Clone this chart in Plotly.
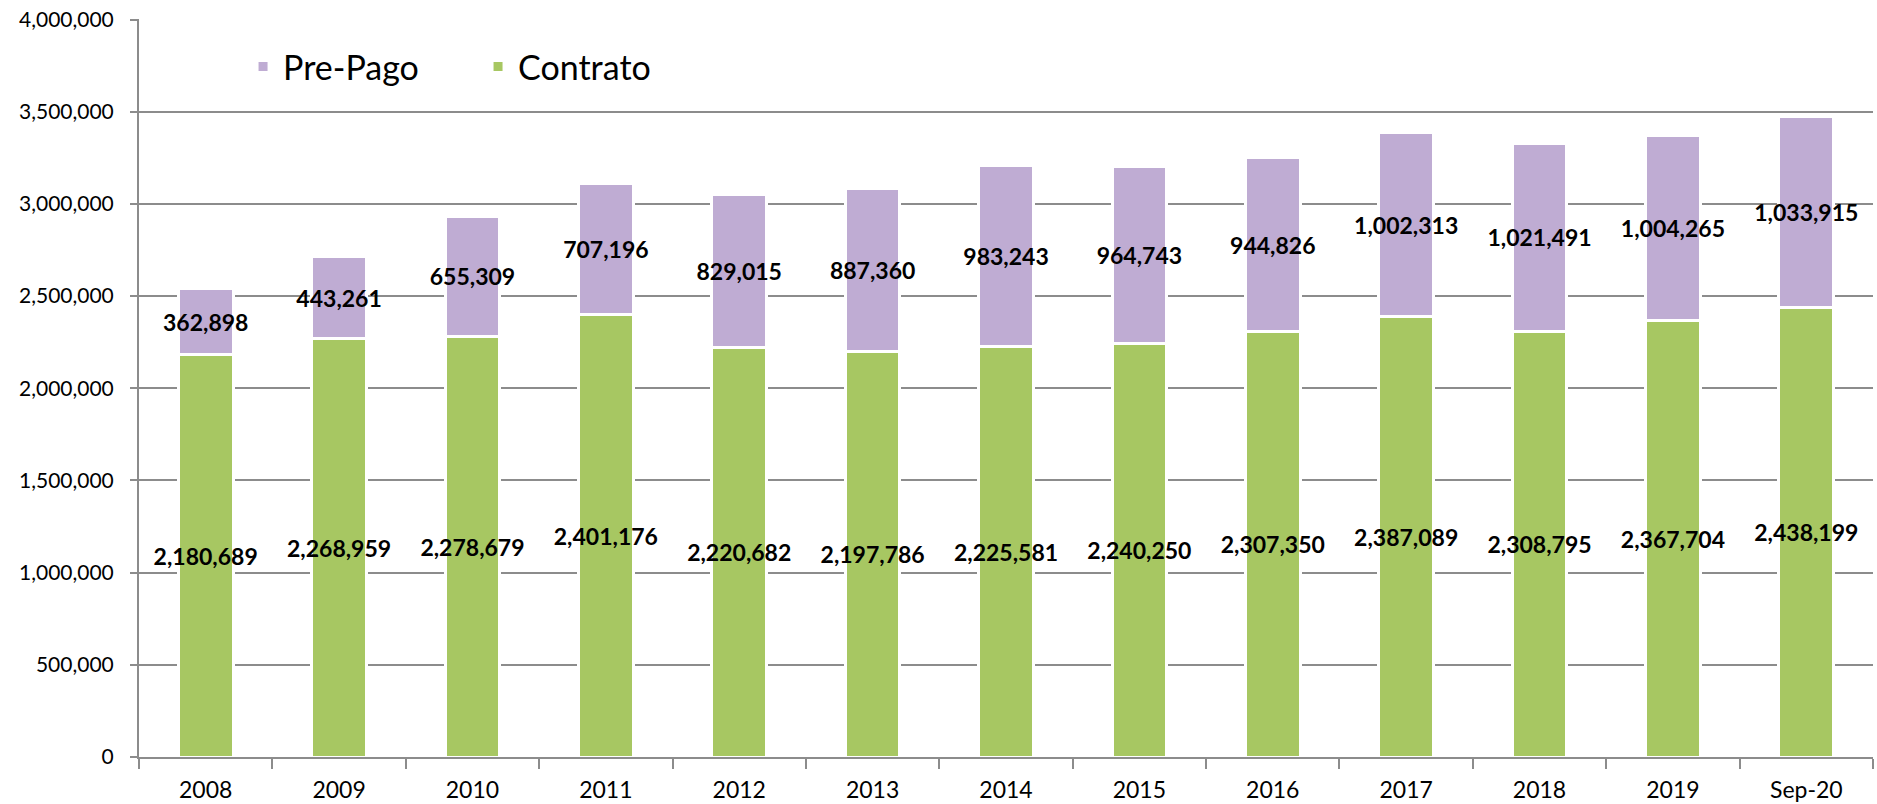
import plotly.graph_objects as go

years = ["2008", "2009", "2010", "2011", "2012", "2013", "2014",
         "2015", "2016", "2017", "2018", "2019", "Sep-20"]
contrato = [2180689, 2268959, 2278679, 2401176, 2220682, 2197786, 2225581,
            2240250, 2307350, 2387089, 2308795, 2367704, 2438199]
pre_pago = [362898, 443261, 655309, 707196, 829015, 887360, 983243,
            964743, 944826, 1002313, 1021491, 1004265, 1033915]

GREEN = "#A7C762"
PURPLE = "#BFACD3"
GRID = "#8C8C8C"
FONT = "Lato, 'Open Sans', sans-serif"

fig = go.Figure()

# stacked bars: contract at the bottom, pre-paid on top
fig.add_trace(go.Bar(
    x=years, y=contrato, name="Contrato",
    marker=dict(color=GREEN, line=dict(color="white", width=3)),
    texttemplate="%{y:,}", textposition="inside", insidetextanchor="middle",
    textangle=0,
    textfont=dict(family=FONT, size=23, color="black", weight="bold"),
))
fig.add_trace(go.Bar(
    x=years, y=pre_pago, name="Pre-Pago",
    marker=dict(color=PURPLE, line=dict(color="white", width=3)),
    texttemplate="%{y:,}", textposition="inside", insidetextanchor="middle",
    textangle=0,
    textfont=dict(family=FONT, size=23, color="black", weight="bold"),
))

fig.update_layout(
    barmode="stack",
    bargap=0.59,
    width=1877, height=804,
    margin=dict(l=139, r=4, t=19, b=47),
    plot_bgcolor="white", paper_bgcolor="white",
    font=dict(family=FONT, size=21, color="black"),
    legend=dict(
        orientation="h", traceorder="reversed",
        x=0.06, xanchor="left", y=0.935, yanchor="middle",
        font=dict(size=34), bgcolor="rgba(0,0,0,0)",
        entrywidth=190,
    ),
    showlegend=True,
)
fig.update_traces(constraintext="none", cliponaxis=False)

fig.update_xaxes(
    type="category", tickson="boundaries",
    ticks="outside", ticklen=10, tickcolor=GRID, tickwidth=2,
    showline=True, linecolor=GRID, linewidth=2,
    showgrid=False, tickfont=dict(size=23),
    ticklabelstandoff=11, ticklabeloverflow="allow", automargin=False,
)
fig.update_yaxes(
    range=[0, 4003000], tickvals=list(range(0, 4000001, 500000)),
    tickformat=",",
    ticks="outside", ticklen=7, tickcolor=GRID, tickwidth=2,
    showline=True, linecolor=GRID, linewidth=2,
    showgrid=True, gridcolor=GRID, gridwidth=2,
    zeroline=False, tickfont=dict(size=21),
    ticklabelstandoff=12, ticklabeloverflow="allow", automargin=False,
)

# drop the default body margin so the figure sits at the window's corner
fig.write_html("out.html", config={"displayModeBar": False},
               post_script="document.body.style.margin='0';")
